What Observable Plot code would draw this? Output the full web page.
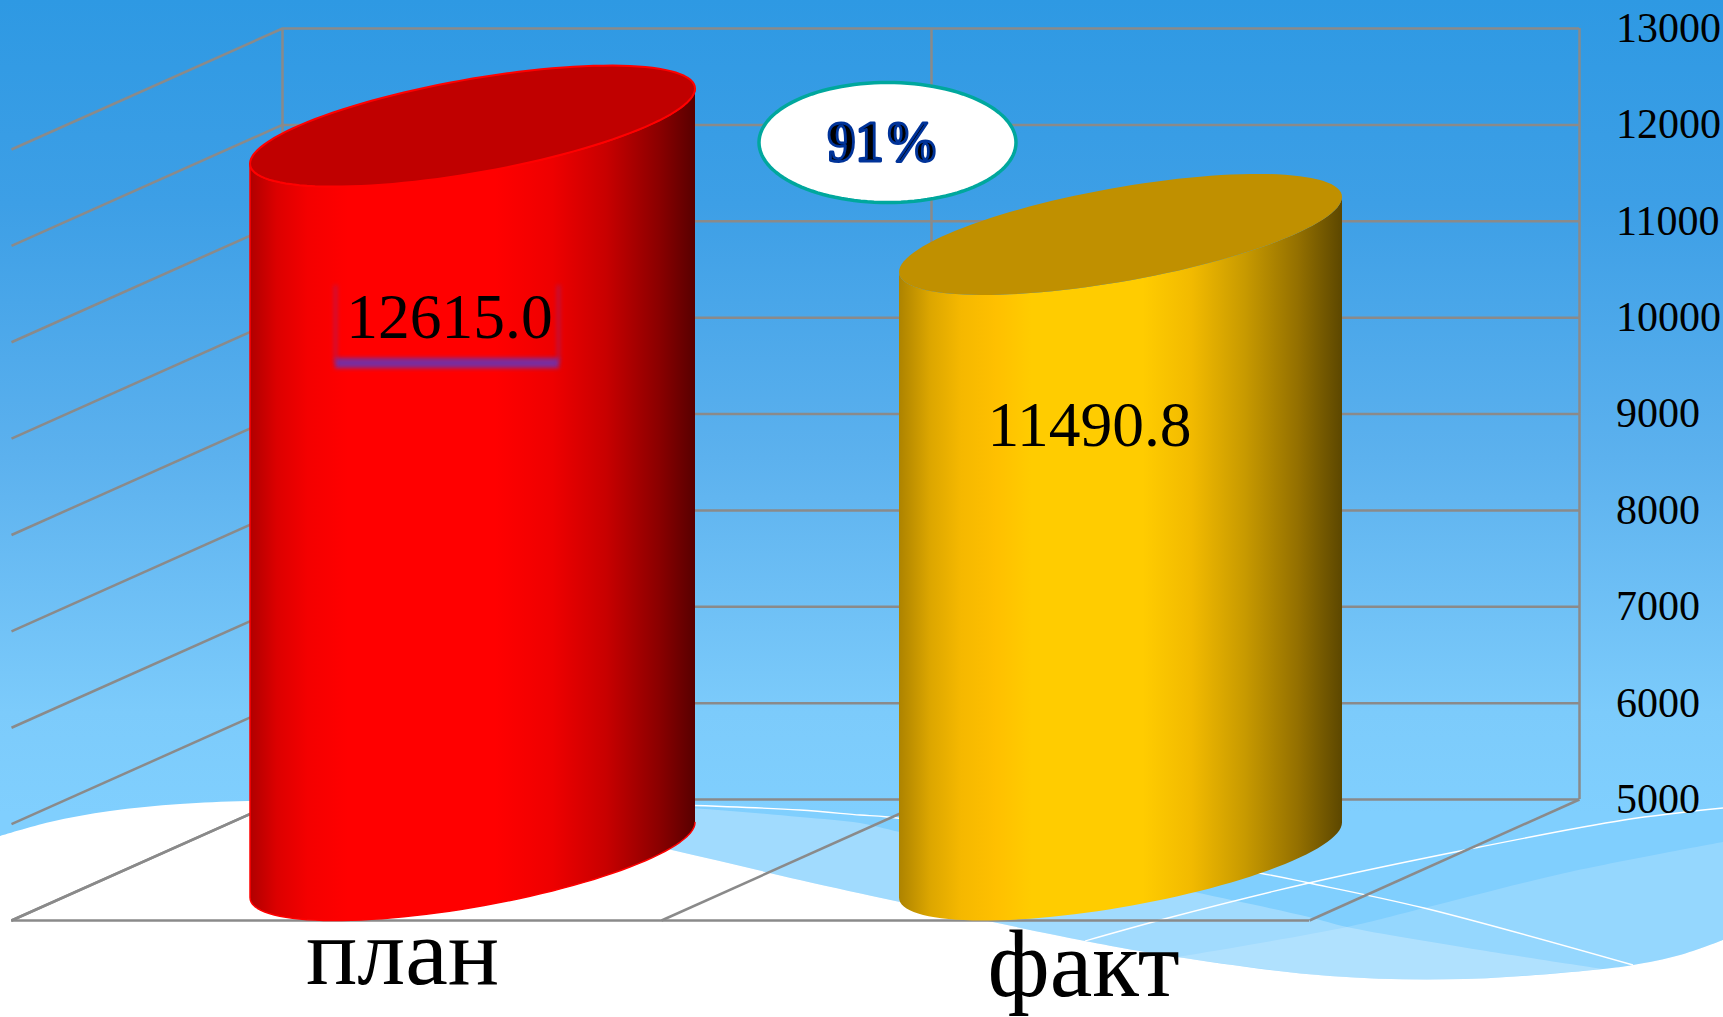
<!DOCTYPE html>
<html>
<head>
<meta charset="utf-8">
<script src="https://cdn.jsdelivr.net/npm/d3@7"></script>
<script src="https://cdn.jsdelivr.net/npm/@observablehq/plot@0.6"></script>
<style>
html,body{margin:0;padding:0;background:#fff;overflow:hidden}
#stage{position:relative;width:1723px;height:1017px;overflow:hidden}
#stage svg{position:absolute;left:0;top:0}
</style>
</head>
<body>
<div id="stage"></div>
<script>
// ---- data ----
const categories = ["план", "факт"];
const values = [12615.0, 11490.8];
const yTicks = [5000, 6000, 7000, 8000, 9000, 10000, 11000, 12000, 13000];

// ---- layout of the oblique 3D box (pixels) ----
const W = 1723, H = 1017;
const Y_BASE_PX = 799, Y_TOP_PX = 28;
const pu = (Y_BASE_PX - Y_TOP_PX) / (13000 - 5000);
const k = 1 / pu;                       // value units per pixel
const val = px => 5000 + (Y_BASE_PX - px) * k;
const DEPTH_X = 270, DEPTH_Y = 121;
const wallX = [282, 931, 1579];
const FRONT = 11;

const bars = [
  {cx: 472, rx: 222.5, stops: [[0,"#b00000"],[.06,"#dc0000"],[.13,"#f40000"],[.22,"#ff0000"],[.55,"#ff0000"],[.68,"#ee0000"],[.8,"#c80000"],[.92,"#8a0000"],[1,"#580000"]],
   cap: "#c00000", edge: "#ff0000", labelX: 449, catX: 402, catY: 983},
  {cx: 1120, rx: 221.5, stops: [[0,"#ad8300"],[.07,"#dca600"],[.14,"#f5b800"],[.22,"#ffc000"],[.3,"#ffcc00"],[.55,"#ffcc00"],[.66,"#f2ba00"],[.78,"#c89a00"],[.9,"#947000"],[1,"#5c4700"]],
   cap: "#c09000", edge: "none", labelX: 1089, catX: 1083, catY: 995}
];

// tilted circle of a cylinder, in plot units
const TILT = 37.5, MINOR = 47.5, DROP = 60.5;
const rim = (cx, rx, v, a) => {
  const t = a * Math.PI / 180;
  return {x: cx + rx * Math.cos(t), y: v - DROP * k - (-TILT * Math.cos(t) + MINOR * Math.sin(t)) * k};
};
const angles = d3.range(0, 361, 3);
const body = (b, v) => [
  ...d3.range(0, 181, 3).map(a => rim(b.cx, b.rx, v, a)),
  ...d3.range(180, -1, -3).map(a => rim(b.cx, b.rx, 5000, a))
];
const cap = (b, v) => angles.map(a => rim(b.cx, b.rx, v, a));

// ---- slide background (decoration, not data) ----
const bg = d3.create("svg").attr("width", W).attr("height", H);
const defsBg = bg.append("defs");
const sky = defsBg.append("linearGradient").attr("id", "sky").attr("x1", 0).attr("x2", 0).attr("y1", 0).attr("y2", 1);
[[0,"#2e99e3"],[.2,"#3d9fe6"],[.45,"#5cb1ee"],[.7,"#7ccbfb"],[.8,"#80cffe"],[1,"#80cffe"]].forEach(([o,c]) =>
  sky.append("stop").attr("offset", o).attr("stop-color", c));
bg.append("rect").attr("width", W).attr("height", H).attr("fill", "url(#sky)");
const curve = d3.line().curve(d3.curveCatmullRom.alpha(0.5));
const join = (...parts) => parts.map((p, i) => { const s = curve(p); return i ? "L" + s.slice(1) : s; }).join("") + "Z";
const lower = [[560,826],[672,850],[800,880],[900,902],[1085,941],[1177,957],[1330,976],[1465,979],[1603,969],[1633,965],[1680,955],[1723,940]];
bg.append("path").attr("fill", "#fff").attr("d", join(
  [[0,836],[50,822],[110,811],[180,804],[248,801],[400,800],[560,826],...lower.slice(1)],
  [[1723,1017],[0,1017]]));
bg.append("path").attr("fill", "#fff").attr("fill-opacity", .26).attr("d", join(
  [[560,803],[690,808],[800,817],[860,823],[900,832],[1050,862],[1194,892],[1309,917],[1347,927],[1480,950],[1603,969]],
  lower.slice(0, 9).reverse()));
bg.append("path").attr("fill", "#fff").attr("fill-opacity", .17).attr("d", join(
  [[1177,957],[1347,927],[1424,908],[1565,873],[1723,842]],
  [[1723,940],[1680,955],[1633,965],[1603,969],[1465,979],[1330,976],[1177,957]]));
[[[681,805],[800,810],[860,815],[888,817],[1259,873],[1309,883],[1424,908],[1633,965]],
 [[1085,941],[1168,918],[1309,883],[1465,850],[1624,820],[1723,808]]].forEach(p =>
  bg.append("path").attr("fill", "none").attr("stroke", "#fff").attr("stroke-width", 1.3).attr("d", curve(p)));
document.getElementById("stage").append(bg.node());

// ---- chart ----
const grid = {stroke: "#8a8a8a", strokeWidth: 2.5};
const serif = "'Liberation Serif', serif";
const gradients = () => {
  const d = d3.create("svg:defs");
  bars.forEach((b, i) => {
    const g = d.append("linearGradient").attr("id", "cyl" + i).attr("x1", 0).attr("x2", 1).attr("y1", 0).attr("y2", 0);
    b.stops.forEach(([o, c]) => g.append("stop").attr("offset", o).attr("stop-color", c));
  });
  return d.node();
};
const rows = categories.map((c, i) => ({c, v: values[i], b: bars[i]}));
const pct = d3.format(".0%")(values[1] / values[0]);
const BADGE = {x: 887, y: 142, rx: 128.5, ry: 60};
const badge = d3.range(0, 361, 3).map(a => ({
  x: BADGE.x + BADGE.rx * Math.cos(a * Math.PI / 180),
  y: val(BADGE.y + BADGE.ry * Math.sin(a * Math.PI / 180))
}));

const chart = Plot.plot({
  width: W, height: H,
  marginTop: 0, marginBottom: 0, marginLeft: 0, marginRight: 0,
  style: {background: "transparent", fontFamily: serif, overflow: "visible"},
  x: {type: "linear", domain: [0, W], range: [0, W], axis: null},
  y: {type: "linear", domain: [5000, 13000], range: [Y_BASE_PX, Y_TOP_PX], axis: null},
  marks: [
    gradients,
    // back wall
    Plot.ruleY(yTicks, {x1: wallX[0], x2: wallX[2], ...grid}),
    Plot.ruleX(wallX, {y1: 5000, y2: 13000, ...grid}),
    // side wall
    Plot.link(yTicks, {x1: wallX[0], x2: FRONT, y1: d => d, y2: d => d - DEPTH_Y * k, ...grid}),
    // floor
    Plot.link(wallX, {x1: d => d, x2: d => d - DEPTH_X + (d === wallX[0] ? -1 : 0), y1: 5000, y2: 5000 - DEPTH_Y * k, ...grid}),
    Plot.ruleY([5000 - DEPTH_Y * k], {x1: FRONT, x2: wallX[2] - DEPTH_X, ...grid}),
    // axis
    Plot.axisY(yTicks, {anchor: "right", tickSize: 0, tickPadding: 0, dx: -107.5, textAnchor: "start",
      tickFormat: "d", label: null, fontSize: 42, fill: "#000", fontFamily: serif}),
    // cylinders
    ...rows.flatMap((r, i) => [
      Plot.line(body(r.b, r.v), {x: "x", y: "y", fill: `url(#cyl${i})`, stroke: r.b.edge, strokeWidth: 1.5, curve: "linear"}),
      Plot.line(cap(r.b, r.v), {x: "x", y: "y", fill: r.b.cap, stroke: r.b.edge, strokeWidth: 2, curve: "linear"})
    ]),
    // highlight under the first label
    Plot.rect([0], {x1: 335, x2: 559, y1: val(358), y2: val(368), fill: "#7a2d9e", imageFilter: "blur(2px)"}),
    Plot.rect([0], {x1: 334, x2: 337, y1: val(285), y2: val(362), fill: "#7a2d9e", fillOpacity: .45, imageFilter: "blur(2px)"}),
    Plot.rect([0], {x1: 557, x2: 560, y1: val(285), y2: val(362), fill: "#7a2d9e", fillOpacity: .45, imageFilter: "blur(2px)"}),
    // value labels
    Plot.text(rows, {x: d => d.b.labelX, y: d => d.v - (DROP + 212) * k, text: d => d3.format(".1f")(d.v),
      fontSize: 63.5, fill: "#000", lineAnchor: "bottom", fontFamily: serif}),
    // category labels
    Plot.text(rows, {x: d => d.b.catX, y: d => val(d.b.catY), text: "c",
      fontSize: 96, fill: "#000", lineAnchor: "bottom", fontFamily: serif}),
    // ratio badge
    Plot.line(badge, {x: "x", y: "y", fill: "#fff", stroke: "#00a79d", strokeWidth: 3.5, curve: "linear"}),
    Plot.text([pct], {x: BADGE.x - 4, y: val(160), text: d => d, fontSize: 56, fontWeight: "bold", lineAnchor: "bottom",
      fill: "#000", stroke: "#003399", strokeWidth: 2.8, paintOrder: "normal", fontFamily: serif})
  ]
});
document.getElementById("stage").append(chart);
</script>
</body>
</html>
